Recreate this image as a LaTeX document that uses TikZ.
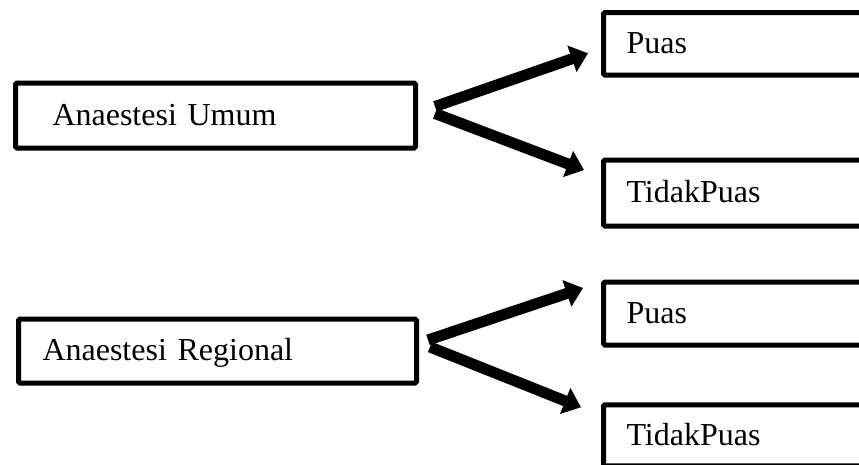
\documentclass[tikz,border=0pt]{standalone}
\usepackage{fontspec}
\setmainfont{Liberation Serif}
\usetikzlibrary{arrows.meta,calc}

\tikzset{
  box/.style={draw, line width=5pt, rounded corners=1.5pt, anchor=west,
    align=left, text height=22pt, text depth=2.5pt,
    font=\fontsize{32}{36}\selectfont},
  thickarrow/.style={line width=11pt, line cap=butt,
    -{Triangle[length=17pt,width=27pt]}}
}

\begin{document}
\begin{tikzpicture}[x=1pt,y=-1pt]
  \useasboundingbox (0,0) rectangle (859,464);
  \clip (0,0) rectangle (859,464);

  % left-hand boxes
  \node[box, inner xsep=37pt, text width=326pt, minimum height=65pt]
    (umum) at (13,115.5) {Anaestesi Umum};
  \node[box, inner xsep=24pt, text width=350pt, minimum height=64pt]
    (regional) at (16,351) {Anaestesi Regional};

  % right-hand boxes (running past the right edge)
  \node[box, inner xsep=23pt, text width=250pt, minimum height=62.5pt]
    (puasA) at (601,43.75) {Puas};
  \node[box, inner xsep=23pt, text width=250pt, minimum height=66pt]
    (tidakA) at (601,193) {TidakPuas};
  \node[box, inner xsep=23pt, text width=250pt, minimum height=63pt]
    (puasB) at (601,313.5) {Puas};
  \node[box, inner xsep=23pt, text width=250pt, minimum height=61pt]
    (tidakB) at (601,435.25) {TidakPuas};

  % fork points and arrow tips
  \coordinate (forkAu) at ($(umum.east)+(17,-9)$);
  \coordinate (forkAd) at ($(umum.east)+(17,-2)$);
  \coordinate (tipAu) at ($(puasA.west)+(-13,9.5)$);
  \coordinate (tipAd) at ($(tidakA.west)+(-17,-23)$);

  \coordinate (forkBu) at ($(regional.east)+(9,-11)$);
  \coordinate (forkBd) at ($(regional.east)+(11,-4)$);
  \coordinate (tipBu) at ($(puasB.west)+(-18,-25.5)$);
  \coordinate (tipBd) at ($(tidakB.west)+(-20,-28)$);

  \draw[thickarrow] (forkAu) -- (tipAu);
  \draw[thickarrow] (forkAd) -- (tipAd);
  \draw[thickarrow] (forkBu) -- (tipBu);
  \draw[thickarrow] (forkBd) -- (tipBd);
\end{tikzpicture}
\end{document}
